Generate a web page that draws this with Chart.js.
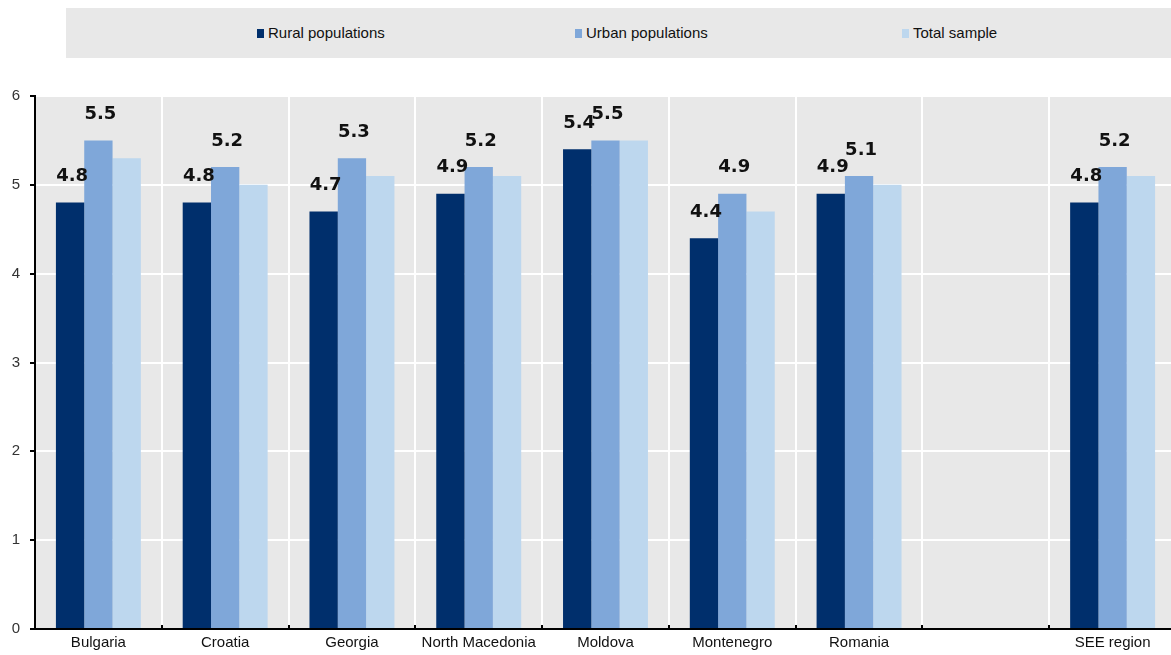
<!DOCTYPE html>
<html>
<head>
<meta charset="utf-8">
<script src="https://cdn.jsdelivr.net/npm/chart.js@4"></script>
<style>
    body { margin: 0; background: #fff; overflow: hidden; }
    #wrap { position: relative; width: 1171px; height: 655px; overflow: hidden; }
    #legendBox {
        position: absolute; left: 66px; top: 8px; width: 1105px; height: 50px;
        background: #e8e8e8;
        font-family: "Liberation Sans Narrow", "Liberation Sans", Arial, sans-serif;
        font-size: 15px; color: #111;
    }
    .item { position: absolute; top: 16px; white-space: nowrap; line-height: 18px; }
    .sw { display: inline-block; width: 7px; height: 9px; margin-right: 4px; vertical-align: 0px; }
    canvas { position: absolute; left: 0; top: 0; }
</style>
</head>
<body>
<div id="wrap">
    <canvas id="barChart" width="1176" height="655"></canvas>
    <div id="legendBox"></div>
</div>
<script>
// Chart data
const categories = ['Bulgaria', 'Croatia', 'Georgia', 'North Macedonia', 'Moldova', 'Montenegro', 'Romania', '', 'SEE region'];
const rural = [4.8, 4.8, 4.7, 4.9, 5.4, 4.4, 4.9, null, 4.8];
const urban = [5.5, 5.2, 5.3, 5.2, 5.5, 4.9, 5.1, null, 5.2];
const total = [5.3, 5.0, 5.1, 5.1, 5.5, 4.7, 5.0, null, 5.1];
const seriesNames = ['Rural populations', 'Urban populations', 'Total sample'];
const yTicks = [0, 1, 2, 3, 4, 5, 6];

const colors = ['#002f6c', '#7fa7d9', '#bdd7ee'];
const legendLeft = [191, 509, 836];
const axisFont = '"Liberation Sans Narrow", "Liberation Sans", Arial, sans-serif';

// Build the legend strip
function buildLegend() {
    const box = document.getElementById('legendBox');
    seriesNames.forEach((name, i) => {
        const item = document.createElement('div');
        item.className = 'item';
        item.style.left = legendLeft[i] + 'px';
        item.innerHTML = `<span class="sw" style="background:${colors[i]}"></span>${name}`;
        box.appendChild(item);
    });
}

// Grey plot background
const plotBackground = {
    id: 'plotBackground',
    beforeDraw(chart) {
        const { ctx, chartArea: a } = chart;
        ctx.save();
        ctx.fillStyle = '#e8e8e8';
        ctx.fillRect(a.left, a.top, a.right - a.left, a.bottom - a.top);
        ctx.restore();
    }
};

// Small upward ticks on the category axis + value labels
const extras = {
    id: 'extras',
    afterDatasetsDraw(chart) {
        const { ctx, chartArea: a } = chart;
        const x = chart.scales.x;
        const step = x.getPixelForValue(1) - x.getPixelForValue(0);
        ctx.save();
        ctx.strokeStyle = '#000';
        ctx.lineWidth = 2;
        for (let i = 0; i <= categories.length; i++) {
            const px = Math.round(x.getPixelForValue(i) - step / 2);
            ctx.beginPath();
            ctx.moveTo(px, a.bottom);
            ctx.lineTo(px, a.bottom - 4);
            ctx.stroke();
        }
        ctx.font = 'bold 18px "DejaVu Sans", sans-serif';
        ctx.fillStyle = '#111';
        ctx.textAlign = 'center';
        ctx.textBaseline = 'middle';
        [0, 1].forEach(d => {
            const meta = chart.getDatasetMeta(d);
            meta.data.forEach((bar, i) => {
                const v = chart.data.datasets[d].data[i];
                if (v === null) return;
                ctx.fillText(v.toFixed(1), bar.x + 2, bar.y - 26);
            });
        });
        ctx.restore();
    }
};

document.addEventListener('DOMContentLoaded', () => {
    buildLegend();
    const ctx = document.getElementById('barChart').getContext('2d');
    new Chart(ctx, {
        type: 'bar',
        data: {
            labels: categories,
            datasets: [rural, urban, total].map((d, i) => ({
                label: seriesNames[i],
                data: d,
                backgroundColor: colors[i],
                categoryPercentage: 0.67,
                barPercentage: 1
            }))
        },
        options: {
            responsive: false,
            animation: false,
            layout: { padding: { top: 96, right: 0, left: 0, bottom: 0 } },
            plugins: {
                legend: { display: false },
                tooltip: { enabled: false }
            },
            scales: {
                x: {
                    grid: { offset: true, color: '#fff', lineWidth: 2, tickLength: 0 },
                    border: { color: '#000', width: 2 },
                    ticks: { color: '#111', font: { family: axisFont, size: 15 }, padding: 5, maxRotation: 0, autoSkip: false },
                    afterFit(scale) { scale.height = 26; }
                },
                y: {
                    min: 0,
                    max: 6,
                    afterBuildTicks(scale) { scale.ticks = yTicks.map(v => ({ value: v })); },
                    grid: { color: '#fff', lineWidth: 2, tickColor: '#000', tickLength: 5 },
                    border: { color: '#000', width: 2 },
                    ticks: { color: '#333', font: { family: axisFont, size: 15 }, padding: 10 },
                    afterFit(scale) { scale.width = 35; }
                }
            }
        },
        plugins: [plotBackground, extras]
    });
});
</script>
</body>
</html>
